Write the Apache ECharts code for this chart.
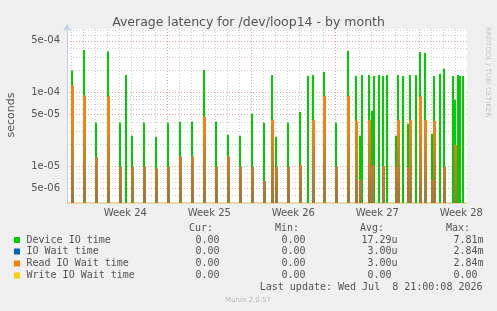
<!DOCTYPE html>
<html>
<head>
<meta charset="utf-8">
<script src="https://cdn.jsdelivr.net/npm/echarts@6/dist/echarts.min.js"></script>
<style>
  html, body { margin: 0; padding: 0; background: #f0f0f0; }
  #chart { width: 497px; height: 311px; }
</style>
</head>
<body>
<div id="chart"></div>
<script>
// spike times (UTC, 2h steps) and latencies in seconds
const spikeTimes = [
  '2026-06-06 02:00', '2026-06-07 02:00', '2026-06-08 02:00', '2026-06-09 02:00', '2026-06-10 02:00',
  '2026-06-10 14:00', '2026-06-11 02:00', '2026-06-12 02:00', '2026-06-13 02:00', '2026-06-14 02:00',
  '2026-06-15 02:00', '2026-06-16 02:00', '2026-06-17 02:00', '2026-06-18 02:00', '2026-06-19 02:00',
  '2026-06-20 02:00', '2026-06-21 02:00', '2026-06-22 02:00', '2026-06-22 18:00', '2026-06-23 02:00',
  '2026-06-24 02:00', '2026-06-25 02:00', '2026-06-25 18:00', '2026-06-26 04:00', '2026-06-27 02:00',
  '2026-06-28 02:00', '2026-06-29 02:00', '2026-06-29 18:00', '2026-06-30 02:00', '2026-06-30 06:00',
  '2026-06-30 20:00', '2026-07-01 02:00', '2026-07-01 06:00', '2026-07-01 16:00', '2026-07-02 00:00',
  '2026-07-02 08:00', '2026-07-03 02:00', '2026-07-03 06:00', '2026-07-03 16:00', '2026-07-04 02:00',
  '2026-07-04 06:00', '2026-07-04 18:00', '2026-07-05 02:00', '2026-07-05 12:00', '2026-07-06 02:00',
  '2026-07-06 06:00', '2026-07-06 18:00', '2026-07-07 02:00', '2026-07-07 20:00', '2026-07-08 00:00',
  '2026-07-08 06:00', '2026-07-08 10:00', '2026-07-08 16:00'
];
const deviceIO = [
  1.96e-4, 3.73e-4, 3.85e-5, 3.54e-4, 3.85e-5, 1.71e-4, 2.57e-5, 3.85e-5, 2.49e-5, 3.85e-5,
  3.97e-5, 3.97e-5, 2.0e-4, 3.97e-5, 2.65e-5, 2.57e-5, 5.1e-5, 3.85e-5, 1.71e-4, 2.49e-5,
  3.85e-5, 5.4e-5, 1.66e-4, 1.71e-4, 1.88e-4, 3.85e-5, 3.62e-4, 1.66e-4, 2.57e-5, 1.71e-4,
  1.71e-4, 5.58e-5, 1.66e-4, 1.71e-4, 1.66e-4, 1.71e-4, 2.57e-5, 1.71e-4, 1.66e-4, 3.73e-5,
  1.71e-4, 1.71e-4, 3.5e-4, 3.4e-4, 2.74e-5, 1.66e-4, 1.77e-4, 2.07e-4, 1.66e-4, 7.9e-5,
  1.71e-4, 1.66e-4, 1.66e-4
];
const readWait = [
  1.24e-4, 9.0e-5, 1.32e-5, 8.7e-5, 9.7e-6, null, 9.7e-6, 9.7e-6, 9.3e-6, 9.7e-6,
  1.35e-5, 1.35e-5, 4.64e-5, 9.7e-6, 1.35e-5, 9.7e-6, 9.7e-6, 6.3e-6, 4.2e-5, 9.7e-6,
  9.7e-6, 1.03e-5, null, 4.2e-5, 8.9e-5, 9.7e-6, 8.9e-5, 4.1e-5, 6.5e-6, null,
  4.2e-5, 1.03e-5, null, null, 1.0e-5, null, 9.7e-6, 4.2e-5, null, 9.5e-6,
  4.2e-5, null, 8.7e-5, 4.2e-5, 6.6e-6, 4.1e-5, null, 9.7e-6, null, 1.94e-5,
  null, null, null
];

// horizontal grid: red at 1 and 5 of each decade, grey otherwise
const yMinorValues = [4e-6, 6e-6, 7e-6, 8e-6, 9e-6, 2e-5, 3e-5, 4e-5, 6e-5, 7e-5, 8e-5, 9e-5, 2e-4, 3e-4, 4e-4, 6e-4, 7e-4];
const yMajorValues = [5e-6, 1e-5, 5e-5, 1e-4, 5e-4];
const yLabels = ['5e-06', '1e-05', '5e-05', '1e-04', '5e-04'];

const weekLabelTimes = ['2026-06-10 12:00', '2026-06-17 12:00', '2026-06-24 12:00', '2026-07-01 12:00', '2026-07-08 12:00'];
const weekLabels = ['Week 24', 'Week 25', 'Week 26', 'Week 27', 'Week 28'];

const legendNames = ['Device IO time', 'IO Wait time', 'Read IO Wait time', 'Write IO Wait time'];
const legendColors = ['#00cc00', '#0066b3', '#ff8000', '#ffcc00'];
const curVals = ['0.00', '0.00', '0.00', '0.00'];
const minVals = ['0.00', '0.00', '0.00', '0.00'];
const avgVals = ['17.29u', '3.00u', '3.00u', '0.00 '];
const maxVals = ['7.81m', '2.84m', '2.84m', '0.00 '];

const utc = s => Date.parse(s.replace(' ', 'T') + ':00Z');
const xMin = Date.UTC(2026, 5, 5, 15, 24);
const xMax = xMin + 400 * 7200 * 1000;
const weekLabelMs = weekLabelTimes.map(utc);

const minor = '#cdcdcd';
const major = '#e6a0a0';

// one grid line per day, red on Sundays
const dayLines = [];
for (let t = Date.UTC(2026, 5, 6); t < xMax; t += 86400000) {
  dayLines.push([t, 1e-5, new Date(t).getUTCDay() === 0 ? 1 : 0]);
}
const hLines = yMinorValues.map(v => [xMin, v, 0]).concat(yMajorValues.map(v => [xMin, v, 1]));

function gridLine(vertical) {
  return function (params, api) {
    const p = api.coord([api.value(0), api.value(1)]);
    const cs = params.coordSys;
    const color = api.value(2) ? major : minor;
    let shape;
    if (vertical) {
      const x = Math.round(p[0]) + 0.5;
      shape = { x1: x, y1: cs.y, x2: x, y2: cs.y + cs.height };
    } else {
      const y = Math.round(p[1]) + 0.5;
      shape = { x1: cs.x, y1: y, x2: cs.x + cs.width, y2: y };
    }
    return { type: 'line', shape: shape, style: { stroke: color, lineWidth: 1, lineDash: [1, 2] } };
  };
}

function spike(width, fillFn) {
  return function (params, api) {
    const v = api.value(1);
    if (!(v > 0)) return;
    const p = api.coord([api.value(0), v]);
    const cs = params.coordSys;
    const x = Math.round(p[0]) - Math.floor(width / 2);
    const bottom = cs.y + cs.height;
    return {
      type: 'rect',
      shape: { x: x, y: p[1], width: width, height: bottom - p[1] },
      style: { fill: fillFn(cs) }
    };
  };
}

const chart = echarts.init(document.getElementById('chart'));
const mono = '"DejaVu Sans Mono", monospace';
const legendGraphics = [];
const rowY = [240, 251.5, 263.5, 275.5];
[['Cur:', 213], ['Min:', 299], ['Avg:', 384], ['Max:', 470]].forEach(h => {
  legendGraphics.push({ type: 'text', x: h[1], y: 228.5, style: { text: h[0], font: '10px ' + mono, fill: '#555', align: 'right', verticalAlign: 'middle' } });
});
legendNames.forEach((name, i) => {
  const y = rowY[i];
  legendGraphics.push({ type: 'rect', shape: { x: 14, y: y - 3, width: 6, height: 6 }, style: { fill: legendColors[i] } });
  legendGraphics.push({ type: 'text', x: 26.5, y: y, style: { text: name, font: '10px ' + mono, fill: '#555', verticalAlign: 'middle' } });
  [[curVals, 219.5], [minVals, 305.5], [avgVals, 397.5], [maxVals, 483.5]].forEach(c => {
    legendGraphics.push({ type: 'text', x: c[1], y: y, style: { text: c[0][i], font: '10px ' + mono, fill: '#555', align: 'right', verticalAlign: 'middle' } });
  });
});
legendGraphics.push({ type: 'text', x: 482.5, y: 287.5, style: { text: 'Last update: Wed Jul  8 21:00:08 2026', font: '10px ' + mono, fill: '#555', align: 'right', verticalAlign: 'middle' } });
legendGraphics.push({ type: 'text', x: 248, y: 300, style: { text: 'Munin 2.0.57', font: '7px "DejaVu Sans", sans-serif', fill: '#bbb', align: 'center', verticalAlign: 'middle' } });
legendGraphics.push({ type: 'text', x: 11, y: 115, rotation: Math.PI / 2, style: { text: 'seconds', font: '11px "DejaVu Sans", sans-serif', fill: '#555', align: 'center', verticalAlign: 'middle' } });
legendGraphics.push({ type: 'text', x: 488, y: 72, rotation: -Math.PI / 2, style: { text: 'RRDTOOL / TOBI OETIKER', font: '7px "DejaVu Sans", sans-serif', fill: '#c8c8c8', align: 'center', verticalAlign: 'middle' } });

const option = {
  backgroundColor: '#f0f0f0',
  animation: false,
  title: {
    text: 'Average latency for /dev/loop14 - by month',
    left: 'center',
    top: 11,
    textStyle: { color: '#555', fontSize: 12.5, fontWeight: 'normal', fontFamily: 'DejaVu Sans' }
  },
  grid: {
    left: 67, right: 30, top: 29, bottom: 108,
    show: true, backgroundColor: '#fff', borderWidth: 0
  },
  xAxis: {
    type: 'value',
    min: xMin,
    max: xMax,
    axisLine: { show: true, lineStyle: { color: '#e8cc8c', width: 1.5 } },
    axisTick: { show: false },
    splitLine: { show: false },
    axisLabel: {
      customValues: weekLabelMs,
      margin: 5,
      color: '#555',
      fontSize: 10,
      fontFamily: 'DejaVu Sans',
      formatter: v => {
        let best = 0;
        weekLabelMs.forEach((t, i) => { if (Math.abs(t - v) < Math.abs(weekLabelMs[best] - v)) best = i; });
        return weekLabels[best];
      }
    }
  },
  yAxis: {
    type: 'log',
    logBase: 10,
    min: 3.1623e-6,
    max: 7.16e-4,
    axisLine: { show: true, lineStyle: { color: '#c4ccee' }, symbol: ['none', 'arrow'], symbolSize: [6, 7], symbolOffset: [0, 5] },
    axisTick: { show: false },
    splitLine: { show: false },
    axisLabel: {
      customValues: yMajorValues,
      margin: 7,
      color: '#555',
      fontSize: 10,
      fontFamily: 'DejaVu Sans',
      formatter: v => {
        let best = 0;
        yMajorValues.forEach((lv, i) => { if (Math.abs(lv - v) < Math.abs(yMajorValues[best] - v)) best = i; });
        return yLabels[best];
      }
    }
  },
  graphic: legendGraphics,
  series: [
    {
      name: 'day grid',
      type: 'custom',
      silent: true,
      renderItem: gridLine(true),
      data: dayLines,
      z: 1
    },
    {
      name: 'value grid',
      type: 'custom',
      silent: true,
      renderItem: gridLine(false),
      data: hLines,
      z: 1
    },
    {
      name: 'Device IO time',
      type: 'custom',
      renderItem: spike(2, () => '#00cc00'),
      data: spikeTimes.map((t, i) => [utc(t), deviceIO[i]]),
      z: 3
    },
    {
      name: 'Read IO Wait time',
      type: 'custom',
      renderItem: spike(3, cs => new echarts.graphic.LinearGradient(0, cs.y + cs.height * 0.55, 0, cs.y + cs.height, [
        { offset: 0, color: '#f58410' },
        { offset: 1, color: '#9c7a3a' }
      ], true)),
      data: spikeTimes.map((t, i) => [utc(t), readWait[i] === null ? '-' : readWait[i]]),
      z: 4
    }
  ]
};
chart.setOption(option);
</script>
</body>
</html>
